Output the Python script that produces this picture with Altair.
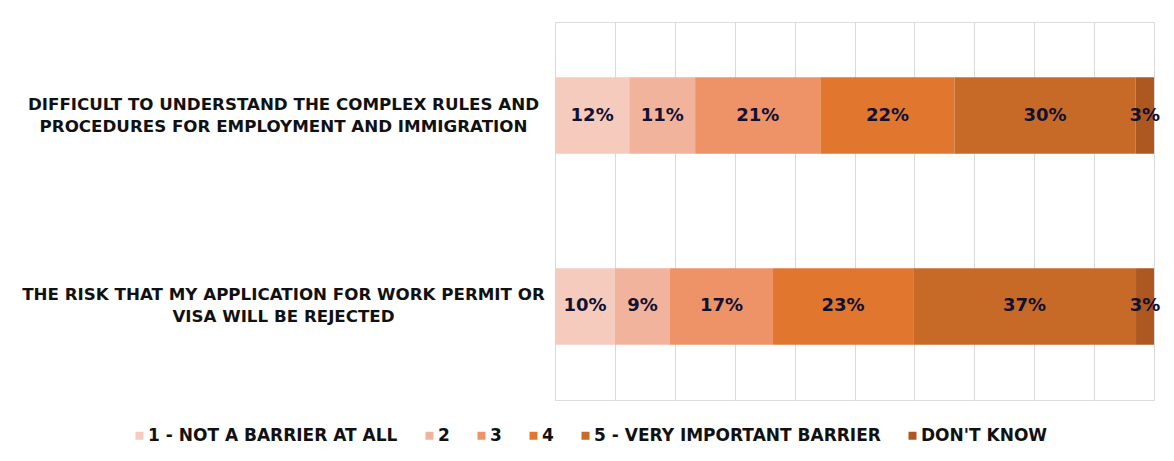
import altair as alt
import pandas as pd

categories = [
    ["DIFFICULT TO UNDERSTAND THE  COMPLEX RULES AND", "PROCEDURES FOR EMPLOYMENT AND IMMIGRATION"],
    ["THE RISK THAT MY APPLICATION  FOR WORK PERMIT OR", "VISA WILL BE REJECTED"],
]
cat_keys = ["A", "B"]
responses = ["1 - NOT A BARRIER AT ALL", "2", "3", "4", "5 - VERY IMPORTANT BARRIER", "DON'T KNOW"]
values_a = [12.4, 11.0, 20.9, 22.4, 30.2, 3.1]
values_b = [10.0, 9.2, 17.2, 23.4, 37.2, 3.0]
labels_a = ["12%", "11%", "21%", "22%", "30%", "3%"]
labels_b = ["10%", "9%", "17%", "23%", "37%", "3%"]
colors = ["#F5CBBE", "#F1B39C", "#EE9268", "#E1762F", "#C86A27", "#AD5820"]

rows = []
for key, vals, labs in [("A", values_a, labels_a), ("B", values_b, labels_b)]:
    for i, (r, v, l) in enumerate(zip(responses, vals, labs)):
        rows.append({"cat": key, "resp": r, "order": i, "value": v, "label": l})
df = pd.DataFrame(rows)

label_expr = "datum.value == 'A' ? " + str(categories[0]) + " : " + str(categories[1])

FONT = "DejaVu Sans"

y_enc = alt.Y(
    "cat:N",
    sort=cat_keys,
    title=None,
    scale=alt.Scale(paddingInner=0.6, paddingOuter=0.29),
    axis=alt.Axis(
        labelExpr=label_expr,
        labelAlign="center",
        labelBaseline="middle",
        labelPadding=272,
        labelOffset=-11,
        labelLimit=0,
        ticks=False,
        domain=False,
        labelFont=FONT,
        labelFontSize=16.7,
        labelFontWeight="bold",
        labelColor="#111111",
        labelLineHeight=22,
    ),
)

bars = alt.Chart(df).mark_bar().encode(
    y=y_enc,
    x=alt.X(
        "value:Q",
        stack="normalize",
        title=None,
        scale=alt.Scale(domain=[0, 1], nice=False),
        axis=alt.Axis(
            values=[i / 10 for i in range(11)],
            labels=False,
            ticks=False,
            domain=False,
            grid=True,
            gridColor="#D9D9D9",
            gridWidth=1,
        ),
    ),
    color=alt.Color(
        "resp:N",
        sort=responses,
        scale=alt.Scale(domain=responses, range=colors),
        legend=alt.Legend(
            title=None,
            orient="none",
            direction="horizontal",
            legendX=-424,
            legendY=405,
            symbolType="square",
            symbolSize=64,
            symbolStrokeWidth=0,
            labelFont=FONT,
            labelFontSize=17,
            labelFontWeight="bold",
            labelColor="#111111",
            labelOffset=0,
            columnPadding=23,
            labelLimit=0,
        ),
    ),
    order=alt.Order("order:Q"),
)

text = alt.Chart(df).transform_stack(
    stack="value", groupby=["cat"], as_=["v0", "v1"], sort=[alt.SortField("order")], offset="normalize"
).transform_calculate(mid="(datum.v0 + datum.v1) / 2").mark_text(
    font=FONT, fontSize=18, fontWeight="bold", color="#111133"
).encode(
    y=alt.Y("cat:N", sort=cat_keys),
    x=alt.X("mid:Q"),
    text="label:N",
)

chart = (
    alt.layer(bars, text)
    .properties(
        width=599,
        height=378,
        autosize=alt.AutoSizeParams(type="none"),
        padding={"left": 547, "top": 14, "right": 12, "bottom": 53},
    )
    .configure_view(stroke=None)
    .configure(background="white")
)

chart.save("out.html", embed_options={"renderer": "svg", "actions": False})
